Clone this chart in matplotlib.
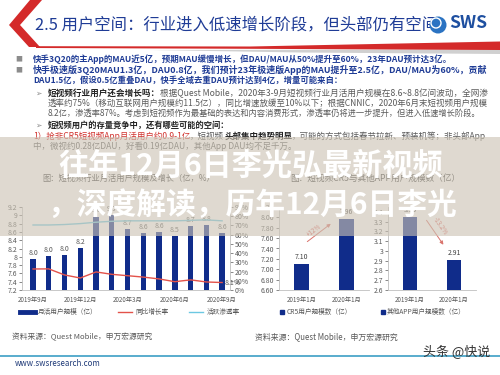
import matplotlib
matplotlib.use('Agg')
import matplotlib.pyplot as plt
from matplotlib.patches import Polygon, Rectangle, Circle
from matplotlib.lines import Line2D

FONT = ['Noto Sans CJK SC', 'DejaVu Sans']
plt.rcParams['font.family'] = FONT
plt.rcParams['axes.unicode_minus'] = False

# ---------------- data ----------------
months = ['2019年9月', '2019年10月', '2019年11月', '2019年12月', '2020年1月', '2020年2月',
          '2020年3月', '2020年4月', '2020年5月', '2020年6月', '2020年7月', '2020年8月', '2020年9月']
tick_idx = [0, 3, 6, 9, 12]
mau = [7.95, 8.02, 8.04, 8.22, 8.97, 9.00, 8.67, 8.57, 8.60, 8.50, 8.74, 8.77, 8.57]
mau_labels = ['8.0', '8.0', '8.0', '8.2', '9.0', '9.0', '8.7', '8.6', '8.6', '8.5', '8.7', '8.8', '8.6']
yoy = [22.8, 22.9, 16.3, 13.0, 19.6, 17.0, 15.5, 14.0, 12.0, 9.0, 11.0, 8.7, 8.1]
pen = [70.5, 70.5, 71.0, 72.0, 73.5, 74.5, 75.0, 75.0, 75.0, 75.0, 75.5, 76.0, 75.0]
left_yticks = [7.2, 7.4, 7.6, 7.8, 8.0, 8.2, 8.4, 8.6, 8.8, 9.0, 9.2]
left_yticklabels = ['7.2', '7.4', '7.6', '7.8', '8', '8.2', '8.4', '8.6', '8.8', '9', '9.2']
pct_ticks = [0, 10, 20, 30, 40, 50, 60, 70, 80, 90]

cr5_dates = ['2019年1月', '2020年1月']
cr5 = [7.10, 7.96]
cr5_labels = ['7.10', '7.96']
cr5_ticks = [6.6, 6.8, 7.0, 7.2, 7.4, 7.6, 7.8, 8.0, 8.2]
cr5_change = '+12%'

other_dates = ['2019年1月', '2020年1月']
other = [3.35, 2.91]
other_labels = ['3.35', '2.91']
other_ticks = [2.6, 2.7, 2.8, 2.9, 3.0, 3.1, 3.2, 3.3, 3.4]
other_ticklabels = ['2.6', '2.7', '2.8', '2.9', '3', '3.1', '3.2', '3.3', '3.4']
other_change = '-13.2%'

NAVY = '#102C8A'
RED = '#E3524A'
CYAN = '#6CC8E2'
GRAY = '#595959'
SPINE = '#BFBFBF'
BLUE_TXT = '#1F3C96'
BODY = '#5A5A5A'

W, H = 500, 375
fig = plt.figure(figsize=(5, 3.75), dpi=100)
fig.patch.set_facecolor('white')
renderer = fig.canvas.get_renderer()


def axes_px(x0, y0, x1, y1, **kw):
    return fig.add_axes([x0 / W, 1 - y1 / H, (x1 - x0) / W, (y1 - y0) / H], **kw)


def pix_axes(z):
    a = fig.add_axes([0, 0, 1, 1], zorder=z)
    a.set_xlim(0, W)
    a.set_ylim(H, 0)
    a.axis('off')
    a.patch.set_alpha(0)
    return a


def put_line(ax, x0, x1, y, segs, base=7.0, zorder=3):
    arts = []
    for t, c, w in segs:
        arts.append(ax.text(0, y, t, color=c, fontweight=w, fontsize=base,
                            va='center', ha='left', family=FONT, zorder=zorder))
    widths = [a.get_window_extent(renderer).width for a in arts]
    scale = (x1 - x0) / sum(widths)
    for a in arts:
        a.set_fontsize(base * scale)
    x = x0
    for a in arts:
        a.set_x(x)
        x += a.get_window_extent(renderer).width
    return arts


bg = pix_axes(-1)

# ---- header decoration ----
bg.add_patch(Polygon([(150, 50), (500, 49.5), (500, 54), (300, 52.5)], closed=True,
                     facecolor='#D0D0D0', edgecolor='none'))
bg.add_patch(Polygon([(30, 0), (42, 0), (20, 25), (40, 47), (29, 47), (9, 25)], closed=True,
                     facecolor='#D42A2A', edgecolor='none'))
bg.add_patch(Polygon([(36, 46.2), (250, 46.5), (500, 41.5), (500, 50), (250, 48.8), (36, 48)],
                     closed=True, facecolor='#D42A2A', edgecolor='none'))
put_line(bg, 35, 437, 25, [('2.5 用户空间：行业进入低速增长阶段，但头部仍有空间', BLUE_TXT, 'normal')], base=12)
bg.add_patch(Circle((438, 25), 8.5, facecolor='#2B73C2', edgecolor='none', zorder=4))
bg.add_patch(Circle((436, 23), 5, facecolor='none', edgecolor='white', lw=1.0, zorder=4))
put_line(bg, 449, 487, 23, [('SWS', '#1E4FA0', 'bold')], base=12, zorder=4)

# ---- body text ----
bg.text(15, 59, '■', color='#8C8C8C', fontsize=5, va='center')
bg.text(15, 70, '■', color='#8C8C8C', fontsize=5, va='center')
put_line(bg, 33, 453, 59, [('快手3Q20的主App的MAU近5亿，预期MAU缓慢增长，但DAU/MAU从50%提升至60%，23年DAU预计达3亿。', BLUE_TXT, 'bold')])
put_line(bg, 33, 488, 70, [('快手极速版3Q20MAU1.3亿，DAU0.8亿，我们预计23年极速版App的MAU提升至2.5亿，DAU/MAU为60%，贡献', BLUE_TXT, 'bold')])
put_line(bg, 33, 343, 80, [('DAU1.5亿，假设0.5亿重叠DAU，快手全域去重DAU预计达到4亿，增量可能来自：', BLUE_TXT, 'bold')])
bg.text(35, 93, '➢', color='#8C8C8C', fontsize=5.5, va='center', family=['DejaVu Sans'])
put_line(bg, 48, 488, 93, [('短视频行业用户还会增长吗：', '#222222', 'bold'),
                           ('根据Quest Mobile，2020年3-9月短视频行业月活用户规模在8.6~8.8亿间波动，全网渗', BODY, 'normal')])
put_line(bg, 48, 488, 103, [('透率约75%（移动互联网用户规模约11.5亿），同比增速放缓至10%以下；根据CNNIC，2020年6月末短视频用户规模', BODY, 'normal')])
put_line(bg, 48, 482, 113, [('8.2亿，渗透率87%。考虑到短视频作为最基础的表达和内容消费形式，渗透率仍将进一步提升，但进入低速增长阶段。', BODY, 'normal')])
bg.text(35, 125, '➢', color='#8C8C8C', fontsize=5.5, va='center', family=['DejaVu Sans'])
put_line(bg, 48, 230, 125, [('短视频用户的存量竞争中，还有哪些可能的空间：', '#222222', 'bold')])
put_line(bg, 33, 488, 136, [('1）抢非CR5短视频App月活用户约0.9-1亿', '#D0312D', 'normal'),
                            ('，短视频', BODY, 'normal'),
                            ('头部集中趋势明显', '#222222', 'bold'),
                            ('，可能的方式包括春节拉新、预装机等；非头部App', BODY, 'normal')])
put_line(bg, 33, 297, 146, [('中，微视约0.28亿DAU，好看0.19亿DAU，其他App DAU均不足千万。', BODY, 'normal')])

# chart titles
put_line(bg, 42, 215, 178, [('图：短视频行业月活用户规模及增长（亿，%）', '#404040', 'normal')], base=6)
put_line(bg, 290, 462, 178, [('图：短视频CR5与其他APP用户规模数（亿）', '#404040', 'normal')], base=6)

# footer
put_line(bg, 12, 152, 337, [('资料来源：Quest Mobile，申万宏源研究', GRAY, 'normal')], base=5.5)
put_line(bg, 255, 398, 337, [('资料来源：Quest Mobile，申万宏源研究', GRAY, 'normal')], base=5.5)
bg.plot([0, 500], [356, 356], color='#4BA6C9', lw=1.3)
put_line(bg, 15, 100, 364, [('www.swsresearch.com', '#1F3A78', 'normal')], base=6)
put_line(bg, 423, 490, 352, [('头条 @快说', '#333333', 'normal')], base=9, zorder=6)


def style_axis(ax, left=True):
    for s in ['top', 'right']:
        ax.spines[s].set_visible(False)
    ax.spines['left'].set_color(SPINE)
    ax.spines['bottom'].set_color(SPINE)
    ax.spines['left'].set_linewidth(0.6)
    ax.spines['bottom'].set_linewidth(0.6)
    ax.tick_params(axis='y', labelsize=5, colors=GRAY, length=2, width=0.5, pad=1.5)
    ax.tick_params(axis='x', labelsize=4.5, colors=GRAY, length=0, pad=4)
    ax.patch.set_alpha(0)


# ---- left chart ----
ax1 = axes_px(22, 207, 230, 290)
ax1.set_zorder(1)
x = list(range(len(months)))
ax1.bar(x, mau, width=0.34, color=NAVY, zorder=2)
for xi, v, lab in zip(x, mau, mau_labels):
    ax1.text(xi, v + 0.05, lab, ha='center', va='bottom', fontsize=5, color=GRAY)
ax1.set_xlim(-0.7, 12.5)
ax1.set_ylim(7.2, 9.2)
ax1.set_yticks(left_yticks)
ax1.set_yticklabels(left_yticklabels)
ax1.set_xticks(tick_idx)
ax1.set_xticklabels([months[i] for i in tick_idx])
style_axis(ax1)

ax1b = ax1.twinx()
ax1b.set_zorder(2)
ax1b.plot(x, yoy, color=RED, lw=1.0)
ax1b.plot(x, pen, color=CYAN, lw=1.0)
ax1b.set_ylim(0, 90)
ax1b.set_yticks(pct_ticks)
ax1b.set_yticklabels([f'{t}%' for t in pct_ticks])
for s in ['top', 'left', 'bottom']:
    ax1b.spines[s].set_visible(False)
ax1b.spines['right'].set_color(SPINE)
ax1b.spines['right'].set_linewidth(0.6)
ax1b.tick_params(axis='y', labelsize=5, colors=GRAY, length=2, width=0.5, pad=1.5)
ax1b.annotate(f'{yoy[-1]}%', xy=(x[-1], yoy[-1]), xytext=(2, 0), textcoords='offset points',
              va='center', fontsize=5, color=GRAY)

fig.legend(handles=[Line2D([], [], color=NAVY, lw=3.5),
                    Line2D([], [], color=RED, lw=1.0),
                    Line2D([], [], color=CYAN, lw=1.0)],
           labels=['月活用户规模（亿）', '同比增长率', '活跃渗透率'],
           loc='center', bbox_to_anchor=(130 / W, 1 - 312 / H), ncol=3, frameon=False,
           fontsize=4.8, handlelength=2.2, columnspacing=3.0, handletextpad=0.5, labelcolor=GRAY)

# ---- middle chart (CR5) ----
ax2 = axes_px(279, 207, 369, 290)
ax2.bar([0, 1], cr5, width=0.34, color=NAVY)
for xi, v, lab in zip([0, 1], cr5, cr5_labels):
    ax2.text(xi, v + 0.06, lab, ha='center', va='bottom', fontsize=5, color='#404040')
ax2.set_xlim(-0.5, 1.5)
ax2.set_ylim(6.6, 8.2)
ax2.set_yticks(cr5_ticks)
ax2.set_yticklabels([f'{t:.2f}' for t in cr5_ticks])
ax2.set_xticks([0, 1])
ax2.set_xticklabels(cr5_dates)
style_axis(ax2)
ax2.annotate('', xy=(0.70, 7.91), xytext=(0.08, 7.50),
             arrowprops=dict(arrowstyle='-|>', color='#D9736C', lw=0.7, mutation_scale=5))
ax2.text(0.28, 7.75, cr5_change, rotation=37, ha='center', va='center', fontsize=4.5,
         color='#D9534F', rotation_mode='anchor')
fig.legend(handles=[Line2D([], [], color=NAVY, marker='s', ls='none', markersize=3)],
           labels=['CR5用户规模数（亿）'], loc='center', bbox_to_anchor=(316 / W, 1 - 312 / H),
           frameon=False, fontsize=4.8, handlelength=0.6, handletextpad=0.3, labelcolor=GRAY)

# ---- right chart (others) ----
ax3 = axes_px(388, 207, 476, 290)
ax3.bar([0, 1], other, width=0.34, color=NAVY)
for xi, v, lab in zip([0, 1], other, other_labels):
    ax3.text(xi, v + 0.03, lab, ha='center', va='bottom', fontsize=5, color='#404040')
ax3.set_xlim(-0.5, 1.5)
ax3.set_ylim(2.6, 3.45)
ax3.set_yticks(other_ticks)
ax3.set_yticklabels(other_ticklabels)
ax3.set_xticks([0, 1])
ax3.set_xticklabels(other_dates)
style_axis(ax3)
ax3.annotate('', xy=(0.795, 3.04), xytext=(0.34, 3.337),
             arrowprops=dict(arrowstyle='-|>', color='#D9736C', lw=0.7, mutation_scale=5))
ax3.text(0.68, 3.255, other_change, rotation=-55, ha='center', va='center', fontsize=4.5,
         color='#D9534F', rotation_mode='anchor')
fig.legend(handles=[Line2D([], [], color=NAVY, marker='s', ls='none', markersize=3)],
           labels=['其他APP用户规模数（亿）'], loc='center', bbox_to_anchor=(423 / W, 1 - 312 / H),
           frameon=False, fontsize=4.8, handlelength=0.6, handletextpad=0.3, labelcolor=GRAY)

# ---- overlay band ----
ov = pix_axes(10)
ov.add_patch(Rectangle((0, 137), 500, 99, facecolor=(0.80, 0.765, 0.705), alpha=0.62,
                       edgecolor='none'))
put_line(ov, 58, 443, 166, [('往年12月6日李光弘最新视频', 'white', 'bold')], base=21)
put_line(ov, 47, 457, 205, [('，深度解读，历年12月6日李光', 'white', 'bold')], base=21)

fig.savefig('out.png', dpi=100, facecolor='white')
